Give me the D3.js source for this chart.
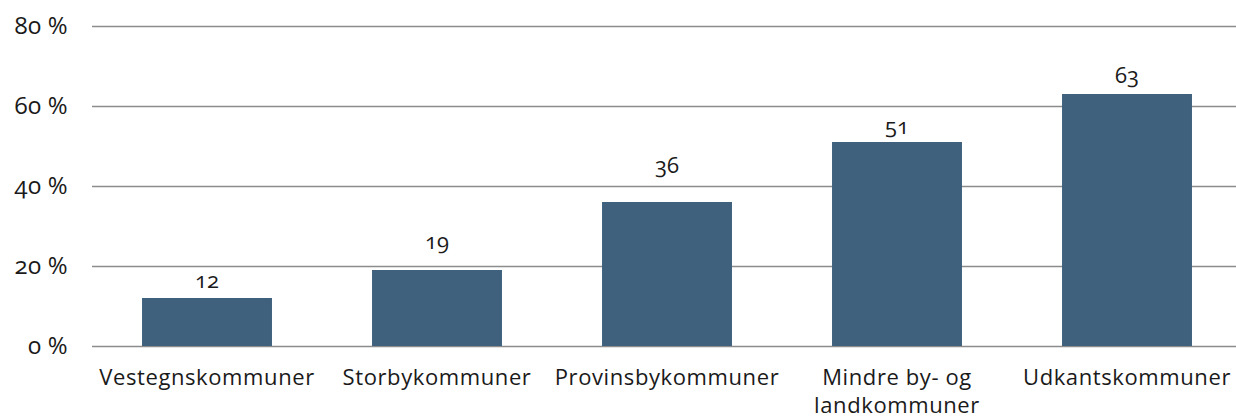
<!DOCTYPE html>
<html>
<head>
<meta charset="utf-8">
<script src="https://cdn.jsdelivr.net/npm/d3@7"></script>
<style>
  html, body { margin: 0; padding: 0; background: #fff; }
  svg { display: block; }
  svg text { font-family: "Open Sans", "Lato", sans-serif; font-variant-numeric: oldstyle-nums; }
</style>
</head>
<body>
<svg id="chart" width="1236" height="419"></svg>
<script>
// Andel (%) per kommunetype
const categories = [
  ["Vestegnskommuner"],
  ["Storbykommuner"],
  ["Provinsbykommuner"],
  ["Mindre by- og", "landkommuner"],
  ["Udkantskommuner"]
];
const values = [12, 19, 36, 51, 63];
const yTicks = [0, 20, 40, 60, 80];

const svg = d3.select("#chart");
const plotLeft = 92, plotRight = 1242, plotTop = 26, plotBottom = 346;

const x = d3.scaleBand()
  .domain(d3.range(values.length))
  .range([plotLeft, plotRight])
  .paddingInner(0.435)
  .paddingOuter(0.2175);

const y = d3.scaleLinear().domain([0, 80]).range([plotBottom, plotTop]);

// gridlines + y tick labels
const yAxis = d3.axisLeft(y)
  .tickValues(yTicks)
  .tickSize(-(1236 - plotLeft))
  .tickPadding(24)
  .tickFormat(d => d + " %");

const gy = svg.append("g").attr("transform", `translate(${plotLeft},0)`).call(yAxis);
gy.attr("font-family", null).attr("font-size", null);
gy.select(".domain").remove();
gy.selectAll(".tick line").attr("stroke", "#8c8c8c").attr("stroke-width", 1.6);
gy.selectAll(".tick text")
  .attr("fill", "#1a1a1a")
  .attr("dy", "0.3em")
  .style("font-size", "24px")
  .style("letter-spacing", "0.3px");

// bars
svg.append("g").selectAll("rect")
  .data(values)
  .join("rect")
  .attr("x", (d, i) => x(i))
  .attr("width", x.bandwidth())
  .attr("y", d => y(d))
  .attr("height", d => y(0) - y(d))
  .attr("fill", "#3f617e");

// value labels, lifted individually so they clear the gridlines
const labelLift = [10, 21, 29, 8, 11];
svg.append("g").selectAll("text")
  .data(values)
  .join("text")
  .attr("x", (d, i) => x(i) + x.bandwidth() / 2)
  .attr("y", (d, i) => y(d) - labelLift[i])
  .attr("text-anchor", "middle")
  .attr("fill", "#1a1a1a")
  .style("font-size", "22px")
  .text(d => d);

// category labels
const cat = svg.append("g").selectAll("text")
  .data(categories)
  .join("text")
  .attr("x", (d, i) => x(i) + x.bandwidth() / 2)
  .attr("y", 385)
  .attr("text-anchor", "middle")
  .attr("fill", "#1a1a1a")
  .style("font-size", "22px")
  .style("letter-spacing", "0.6px");
cat.selectAll("tspan")
  .data(d => d)
  .join("tspan")
  .attr("x", function () { return d3.select(this.parentNode).attr("x"); })
  .attr("dy", (d, i) => i === 0 ? 0 : 28)
  .text(d => d);
</script>
</body>
</html>
